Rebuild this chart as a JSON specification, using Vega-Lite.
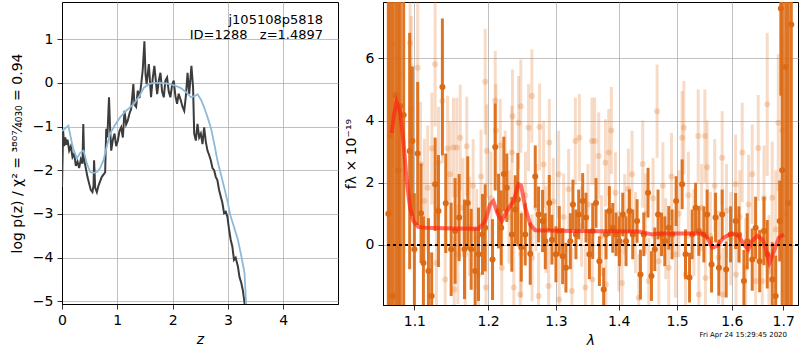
{
  "$schema": "https://vega.github.io/schema/vega-lite/v6.json",
  "padding": {"left": 9, "top": 1, "right": 0, "bottom": 0},
  "spacing": 45,
  "bounds": "flush",
  "config": {
    "font": "DejaVu Sans",
    "view": {"stroke": "black", "strokeWidth": 1},
    "axis": {
      "grid": true, "gridColor": "#b0b0b0", "gridWidth": 0.8,
      "domainColor": "black", "domainWidth": 1,
      "tickColor": "black", "tickSize": 5, "tickWidth": 0.8,
      "labelFontSize": 14, "labelColor": "black", "labelPadding": 4,
      "titleFontSize": 14, "titleFontWeight": "normal", "titleColor": "black", "titlePadding": 5,
      "labelFlush": false, "labelOverlap": false
    }
  },
  "datasets": {
    "pz": [
      {"z":0.00,"logp":-2.38},{"z":0.02,"logp":-1.09},{"z":0.04,"logp":-1.45},{"z":0.06,"logp":-1.25},{"z":0.08,"logp":-1.42},{"z":0.10,"logp":-1.30},{"z":0.13,"logp":-1.55},{"z":0.16,"logp":-1.45},{"z":0.19,"logp":-1.70},{"z":0.22,"logp":-1.62},{"z":0.25,"logp":-1.90},{"z":0.28,"logp":-1.80},{"z":0.31,"logp":-1.95},{"z":0.34,"logp":-1.75},{"z":0.37,"logp":-1.85},{"z":0.385,"logp":-0.94},{"z":0.40,"logp":-1.75},{"z":0.43,"logp":-1.95},{"z":0.46,"logp":-2.15},{"z":0.49,"logp":-2.30},{"z":0.52,"logp":-2.45},{"z":0.55,"logp":-2.50},{"z":0.57,"logp":-2.35},{"z":0.58,"logp":-1.77},{"z":0.60,"logp":-2.40},{"z":0.63,"logp":-2.50},{"z":0.66,"logp":-2.35},{"z":0.69,"logp":-2.25},{"z":0.72,"logp":-2.15},{"z":0.75,"logp":-2.10},{"z":0.78,"logp":-2.05},{"z":0.80,"logp":-1.05},{"z":0.82,"logp":-1.25},{"z":0.85,"logp":-0.33},{"z":0.87,"logp":-1.05},{"z":0.89,"logp":-1.55},{"z":0.92,"logp":-1.30},{"z":0.95,"logp":-1.16},{"z":0.98,"logp":-1.45},{"z":1.01,"logp":-1.32},{"z":1.04,"logp":-1.10},{"z":1.07,"logp":-1.02},{"z":1.10,"logp":-1.25},{"z":1.13,"logp":-0.64},{"z":1.16,"logp":-0.95},{"z":1.19,"logp":-0.86},{"z":1.22,"logp":-0.70},{"z":1.25,"logp":-0.60},{"z":1.29,"logp":-0.03},{"z":1.31,"logp":-0.50},{"z":1.34,"logp":-0.55},{"z":1.37,"logp":-0.18},{"z":1.40,"logp":-0.35},{"z":1.43,"logp":-0.05},{"z":1.46,"logp":0.30},{"z":1.49,"logp":0.95},{"z":1.51,"logp":0.20},{"z":1.53,"logp":-0.03},{"z":1.57,"logp":0.43},{"z":1.61,"logp":-0.33},{"z":1.64,"logp":0.10},{"z":1.67,"logp":0.39},{"z":1.72,"logp":-0.26},{"z":1.75,"logp":0.05},{"z":1.78,"logp":0.23},{"z":1.81,"logp":-0.20},{"z":1.84,"logp":-0.33},{"z":1.87,"logp":0.05},{"z":1.90,"logp":0.12},{"z":1.93,"logp":-0.20},{"z":1.96,"logp":-0.33},{"z":1.99,"logp":-0.05},{"z":2.02,"logp":0.05},{"z":2.05,"logp":-0.30},{"z":2.08,"logp":-0.48},{"z":2.11,"logp":-0.25},{"z":2.15,"logp":-0.41},{"z":2.18,"logp":-0.55},{"z":2.21,"logp":-0.64},{"z":2.24,"logp":-0.30},{"z":2.27,"logp":0.23},{"z":2.30,"logp":-0.26},{"z":2.34,"logp":0.39},{"z":2.37,"logp":-0.11},{"z":2.39,"logp":-1.16},{"z":2.42,"logp":-1.32},{"z":2.45,"logp":-0.94},{"z":2.48,"logp":-1.25},{"z":2.51,"logp":-1.16},{"z":2.54,"logp":-1.40},{"z":2.57,"logp":-1.02},{"z":2.60,"logp":-1.35},{"z":2.63,"logp":-1.55},{"z":2.66,"logp":-1.65},{"z":2.69,"logp":-1.77},{"z":2.72,"logp":-1.95},{"z":2.75,"logp":-2.00},{"z":2.78,"logp":-2.15},{"z":2.81,"logp":-2.23},{"z":2.84,"logp":-2.45},{"z":2.87,"logp":-2.60},{"z":2.90,"logp":-2.75},{"z":2.93,"logp":-2.98},{"z":2.96,"logp":-2.95},{"z":2.99,"logp":-3.06},{"z":3.02,"logp":-3.35},{"z":3.05,"logp":-3.59},{"z":3.08,"logp":-3.75},{"z":3.11,"logp":-4.05},{"z":3.14,"logp":-4.00},{"z":3.18,"logp":-4.20},{"z":3.21,"logp":-4.45},{"z":3.24,"logp":-4.57},{"z":3.27,"logp":-4.75},{"z":3.30,"logp":-5.03},{"z":3.32,"logp":-5.30}
    ],
    "prior": [
      {"z":0.00,"logp":-1.10},{"z":0.05,"logp":-1.05},{"z":0.115,"logp":-0.98},{"z":0.15,"logp":-1.20},{"z":0.20,"logp":-1.50},{"z":0.27,"logp":-1.73},{"z":0.33,"logp":-1.60},{"z":0.39,"logp":-1.55},{"z":0.45,"logp":-1.85},{"z":0.51,"logp":-2.04},{"z":0.57,"logp":-2.06},{"z":0.63,"logp":-2.04},{"z":0.69,"logp":-1.95},{"z":0.75,"logp":-1.77},{"z":0.81,"logp":-1.45},{"z":0.87,"logp":-1.16},{"z":0.95,"logp":-0.98},{"z":1.05,"logp":-0.79},{"z":1.15,"logp":-0.65},{"z":1.30,"logp":-0.48},{"z":1.40,"logp":-0.30},{"z":1.48,"logp":-0.11},{"z":1.57,"logp":-0.03},{"z":1.66,"logp":0.0},{"z":1.78,"logp":0.0},{"z":1.90,"logp":-0.02},{"z":2.02,"logp":-0.05},{"z":2.15,"logp":-0.12},{"z":2.25,"logp":-0.22},{"z":2.33,"logp":-0.33},{"z":2.40,"logp":-0.30},{"z":2.45,"logp":-0.26},{"z":2.51,"logp":-0.38},{"z":2.57,"logp":-0.56},{"z":2.63,"logp":-0.78},{"z":2.69,"logp":-1.02},{"z":2.75,"logp":-1.38},{"z":2.81,"logp":-1.77},{"z":2.87,"logp":-2.08},{"z":2.93,"logp":-2.38},{"z":2.99,"logp":-2.70},{"z":3.05,"logp":-3.06},{"z":3.11,"logp":-3.30},{"z":3.18,"logp":-3.59},{"z":3.24,"logp":-3.95},{"z":3.30,"logp":-4.35},{"z":3.33,"logp":-5.10}
    ],
    "dark": [
      {"lam":1.0667,"f":1.0,"e":10},{"lam":1.0690,"f":3.5,"e":10},{"lam":1.0721,"f":-1.64,"e":10},{"lam":1.0759,"f":4.82,"e":10},{"lam":1.0794,"f":2.40,"e":10},{"lam":1.0819,"f":4.47,"e":10},{"lam":1.0862,"f":4.18,"e":10},
      {"lam":1.0939,"f":3.02,"e":3.8},{"lam":1.0974,"f":3.34,"e":2.4},{"lam":1.1000,"f":-0.14,"e":1.8},{"lam":1.1043,"f":2.94,"e":2.3},{"lam":1.1087,"f":1.02,"e":1.6},{"lam":1.1118,"f":-0.58,"e":1.5},{"lam":1.1184,"f":-0.84,"e":1.7},{"lam":1.1227,"f":-1.64,"e":1.4},{"lam":1.1273,"f":1.95,"e":1.5},{"lam":1.1317,"f":1.09,"e":1.8},{"lam":1.1370,"f":5.08,"e":2.2},{"lam":1.1415,"f":1.34,"e":1.6},{"lam":1.1488,"f":-0.14,"e":1.5},{"lam":1.1542,"f":0.45,"e":1.7},{"lam":1.1597,"f":0.88,"e":1.4},{"lam":1.1670,"f":-0.14,"e":1.6},{"lam":1.1715,"f":1.35,"e":1.5},{"lam":1.1763,"f":-0.14,"e":1.3},{"lam":1.1818,"f":-0.84,"e":1.4},{"lam":1.1865,"f":-0.30,"e":1.5},{"lam":1.1921,"f":0.34,"e":1.3},{"lam":1.1959,"f":0.55,"e":1.4},{"lam":1.2063,"f":-0.47,"e":1.3},{"lam":1.2101,"f":3.15,"e":1.4},{"lam":1.2149,"f":1.09,"e":1.2},{"lam":1.2187,"f":0.55,"e":1.2},{"lam":1.2225,"f":2.28,"e":1.2},{"lam":1.2268,"f":1.84,"e":1.1},{"lam":1.2341,"f":0.34,"e":1.2},{"lam":1.2391,"f":1.14,"e":1.1},{"lam":1.2429,"f":1.46,"e":1.5},{"lam":1.2479,"f":-0.08,"e":1.1},{"lam":1.2538,"f":0.34,"e":1.0},{"lam":1.2612,"f":-0.28,"e":1.0},{"lam":1.2687,"f":2.20,"e":1.0},{"lam":1.2737,"f":0.98,"e":0.9},{"lam":1.2797,"f":0.77,"e":1.0},{"lam":1.2838,"f":0.12,"e":0.9},{"lam":1.2899,"f":1.35,"e":0.9},{"lam":1.2939,"f":0.17,"e":0.8},{"lam":1.3000,"f":-0.30,"e":0.9},{"lam":1.3052,"f":0.45,"e":0.8},{"lam":1.3104,"f":-0.36,"e":0.9},{"lam":1.3155,"f":-0.73,"e":0.8},{"lam":1.3223,"f":0.12,"e":0.9},{"lam":1.3264,"f":1.30,"e":0.8},{"lam":1.3311,"f":0.34,"e":0.8},{"lam":1.3354,"f":0.98,"e":0.8},{"lam":1.3417,"f":1.41,"e":0.9},{"lam":1.3470,"f":0.88,"e":0.8},{"lam":1.3524,"f":-0.30,"e":0.8},{"lam":1.3577,"f":0.45,"e":0.9},{"lam":1.3630,"f":1.35,"e":0.8},{"lam":1.3685,"f":-0.52,"e":0.8},{"lam":1.3754,"f":-1.43,"e":0.7},{"lam":1.3792,"f":0.34,"e":0.8},{"lam":1.3847,"f":1.09,"e":0.8},{"lam":1.3902,"f":0.55,"e":0.8},{"lam":1.3956,"f":0.34,"e":0.7},{"lam":1.4012,"f":0.12,"e":0.8},{"lam":1.4067,"f":0.98,"e":0.7},{"lam":1.4122,"f":0.12,"e":0.8},{"lam":1.4179,"f":1.09,"e":0.7},{"lam":1.4234,"f":0.34,"e":0.8},{"lam":1.4307,"f":0.77,"e":0.7},{"lam":1.4364,"f":-0.95,"e":0.8},{"lam":1.4421,"f":0.34,"e":0.7},{"lam":1.4494,"f":1.68,"e":0.8},{"lam":1.4552,"f":-1.00,"e":0.8},{"lam":1.4609,"f":-0.14,"e":0.7},{"lam":1.4666,"f":0.98,"e":0.8},{"lam":1.4726,"f":0.34,"e":0.7},{"lam":1.4783,"f":0.12,"e":0.8},{"lam":1.4853,"f":0.55,"e":0.7},{"lam":1.4911,"f":0.34,"e":0.8},{"lam":1.4982,"f":1.41,"e":0.8},{"lam":1.5089,"f":1.95,"e":0.8},{"lam":1.5149,"f":-0.30,"e":0.8},{"lam":1.5221,"f":-1.05,"e":0.8},{"lam":1.5268,"f":0.34,"e":0.8},{"lam":1.5330,"f":1.20,"e":0.8},{"lam":1.5389,"f":0.45,"e":0.8},{"lam":1.5481,"f":0.34,"e":0.9},{"lam":1.5541,"f":0.98,"e":0.8},{"lam":1.5622,"f":-0.63,"e":0.9},{"lam":1.5696,"f":0.88,"e":0.8},{"lam":1.5758,"f":-0.73,"e":0.9},{"lam":1.5819,"f":0.98,"e":0.8},{"lam":1.5894,"f":-0.79,"e":0.9},{"lam":1.5977,"f":0.34,"e":0.9},{"lam":1.6072,"f":0.77,"e":0.9},{"lam":1.6135,"f":0.34,"e":0.9},{"lam":1.6230,"f":-1.16,"e":1.0},{"lam":1.6294,"f":0.12,"e":0.9},{"lam":1.6390,"f":-0.47,"e":1.0},{"lam":1.6456,"f":0.55,"e":1.0},{"lam":1.6534,"f":-0.52,"e":1.0},{"lam":1.6619,"f":0.45,"e":1.1},{"lam":1.6683,"f":-0.30,"e":1.1},{"lam":1.6782,"f":-1.11,"e":1.2},{"lam":1.6850,"f":-1.64,"e":1.3},{"lam":1.6930,"f":0.77,"e":1.3},
      {"lam":1.6953,"f":7.6,"e":2.8},{"lam":1.6980,"f":2.4,"e":10},{"lam":1.7050,"f":5.72,"e":10},{"lam":1.7103,"f":1.35,"e":10},{"lam":1.7164,"f":7.09,"e":10}
    ],
    "light": [
      {"lam":1.0720,"f":6.45,"e":4},{"lam":1.0794,"f":0.77,"e":4},{"lam":1.0800,"f":5.5,"e":4},{"lam":1.0944,"f":6.49,"e":3},{"lam":1.0960,"f":4.36,"e":3},{"lam":1.1043,"f":5.70,"e":2.5},{"lam":1.1080,"f":2.6,"e":2},{"lam":1.1131,"f":1.41,"e":2},{"lam":1.1174,"f":1.84,"e":2},{"lam":1.1230,"f":3.1,"e":1.8},{"lam":1.1273,"f":5.81,"e":2},{"lam":1.1290,"f":-0.58,"e":1.8},{"lam":1.1317,"f":2.64,"e":1.8},{"lam":1.1370,"f":4.63,"e":2},{"lam":1.1407,"f":-1.11,"e":1.7},{"lam":1.1440,"f":3.1,"e":1.7},{"lam":1.1474,"f":2.27,"e":1.7},{"lam":1.1519,"f":3.13,"e":1.6},{"lam":1.1530,"f":-1.43,"e":1.7},{"lam":1.1564,"f":3.13,"e":1.6},{"lam":1.1580,"f":-0.30,"e":1.6},{"lam":1.1611,"f":3.45,"e":1.7},{"lam":1.1650,"f":1.2,"e":1.6},{"lam":1.1680,"f":-0.30,"e":1.7},{"lam":1.1702,"f":3.17,"e":1.6},{"lam":1.1740,"f":0.6,"e":1.6},{"lam":1.1790,"f":1.9,"e":1.5},{"lam":1.1840,"f":0.2,"e":1.6},{"lam":1.1865,"f":-0.95,"e":1.5},{"lam":1.1900,"f":2.2,"e":1.5},{"lam":1.1959,"f":5.25,"e":1.7},{"lam":1.1970,"f":-1.37,"e":1.5},{"lam":1.1982,"f":3.02,"e":1.5},{"lam":1.2040,"f":1.5,"e":1.5},{"lam":1.2101,"f":4.64,"e":1.6},{"lam":1.2110,"f":3.68,"e":1.5},{"lam":1.2173,"f":3.20,"e":1.5},{"lam":1.2196,"f":-0.73,"e":1.5},{"lam":1.2245,"f":2.27,"e":1.4},{"lam":1.2300,"f":0.9,"e":1.5},{"lam":1.2341,"f":2.97,"e":1.5},{"lam":1.2351,"f":4.14,"e":1.5},{"lam":1.2370,"f":-1.37,"e":1.5},{"lam":1.2439,"f":3.93,"e":1.5},{"lam":1.2464,"f":-1.59,"e":1.5},{"lam":1.2472,"f":4.46,"e":1.5},{"lam":1.2479,"f":-0.30,"e":1.4},{"lam":1.2540,"f":1.6,"e":1.4},{"lam":1.2587,"f":3.77,"e":1.4},{"lam":1.2636,"f":4.79,"e":1.5},{"lam":1.2640,"f":-0.41,"e":1.4},{"lam":1.2700,"f":1.2,"e":1.4},{"lam":1.2737,"f":-1.64,"e":1.4},{"lam":1.2752,"f":3.79,"e":1.4},{"lam":1.2812,"f":2.59,"e":1.4},{"lam":1.2850,"f":0.5,"e":1.4},{"lam":1.2888,"f":-1.32,"e":1.4},{"lam":1.2899,"f":3.29,"e":1.4},{"lam":1.2960,"f":1.4,"e":1.4},{"lam":1.3042,"f":2.27,"e":1.4},{"lam":1.3050,"f":-1.75,"e":1.4},{"lam":1.3120,"f":0.9,"e":1.4},{"lam":1.3197,"f":1.79,"e":1.3},{"lam":1.3248,"f":-1.48,"e":1.4},{"lam":1.3302,"f":3.34,"e":1.4},{"lam":1.3365,"f":3.45,"e":1.4},{"lam":1.3400,"f":0.6,"e":1.3},{"lam":1.3460,"f":-1.37,"e":1.4},{"lam":1.3500,"f":1.3,"e":1.3},{"lam":1.3565,"f":3.34,"e":1.4},{"lam":1.3570,"f":-1.11,"e":1.3},{"lam":1.3609,"f":3.34,"e":1.4},{"lam":1.3673,"f":2.86,"e":1.4},{"lam":1.3720,"f":0.3,"e":1.3},{"lam":1.3782,"f":2.64,"e":1.4},{"lam":1.3790,"f":-1.27,"e":1.3},{"lam":1.3836,"f":2.97,"e":1.4},{"lam":1.3880,"f":3.68,"e":1.4},{"lam":1.3946,"f":1.68,"e":1.3},{"lam":1.4000,"f":-0.2,"e":1.3},{"lam":1.4055,"f":-1.22,"e":1.4},{"lam":1.4100,"f":0.98,"e":1.3},{"lam":1.4160,"f":1.8,"e":1.3},{"lam":1.4222,"f":2.27,"e":1.4},{"lam":1.4280,"f":0.4,"e":1.3},{"lam":1.4336,"f":-1.70,"e":1.4},{"lam":1.4403,"f":2.60,"e":1.4},{"lam":1.4450,"f":1.0,"e":1.3},{"lam":1.4506,"f":-1.16,"e":1.4},{"lam":1.4580,"f":1.5,"e":1.3},{"lam":1.4649,"f":4.30,"e":1.5},{"lam":1.4679,"f":-0.52,"e":1.4},{"lam":1.4750,"f":1.9,"e":1.4},{"lam":1.4800,"f":0.2,"e":1.3},{"lam":1.4853,"f":-0.73,"e":1.4},{"lam":1.4900,"f":2.2,"e":1.4},{"lam":1.4971,"f":-0.30,"e":1.4},{"lam":1.5030,"f":1.0,"e":1.4},{"lam":1.5089,"f":3.45,"e":1.5},{"lam":1.5119,"f":3.77,"e":1.5},{"lam":1.5149,"f":-0.95,"e":1.4},{"lam":1.5200,"f":1.6,"e":1.4},{"lam":1.5300,"f":0.4,"e":1.4},{"lam":1.5377,"f":3.50,"e":1.5},{"lam":1.5389,"f":-1.59,"e":1.5},{"lam":1.5440,"f":1.2,"e":1.4},{"lam":1.5499,"f":3.50,"e":1.5},{"lam":1.5510,"f":-1.06,"e":1.5},{"lam":1.5541,"f":2.50,"e":1.5},{"lam":1.5600,"f":0.3,"e":1.4},{"lam":1.5680,"f":1.9,"e":1.5},{"lam":1.5750,"f":-0.4,"e":1.5},{"lam":1.5819,"f":2.80,"e":1.5},{"lam":1.5830,"f":-1.59,"e":1.5},{"lam":1.5900,"f":1.1,"e":1.5},{"lam":1.5980,"f":0.2,"e":1.5},{"lam":1.6072,"f":1.95,"e":1.6},{"lam":1.6080,"f":-0.95,"e":1.5},{"lam":1.6150,"f":0.9,"e":1.5},{"lam":1.6198,"f":2.97,"e":1.6},{"lam":1.6263,"f":-0.73,"e":1.6},{"lam":1.6320,"f":1.3,"e":1.6},{"lam":1.6390,"f":2.27,"e":1.6},{"lam":1.6456,"f":-1.16,"e":1.6},{"lam":1.6507,"f":3.12,"e":1.7},{"lam":1.6585,"f":-1.16,"e":1.7},{"lam":1.6620,"f":1.5,"e":1.7},{"lam":1.6683,"f":4.52,"e":2.3},{"lam":1.6717,"f":-0.84,"e":1.8},{"lam":1.6782,"f":1.52,"e":1.8},{"lam":1.6850,"f":0.5,"e":1.9},{"lam":1.6902,"f":3.93,"e":2.2},{"lam":1.6982,"f":3.69,"e":3.0},{"lam":1.7060,"f":1.0,"e":4}
    ],
    "model": [
      {"lam":1.0709,"f":3.60},{"lam":1.0740,"f":4.20},{"lam":1.0772,"f":4.60},{"lam":1.0814,"f":4.31},{"lam":1.0858,"f":3.34},{"lam":1.0900,"f":2.06},{"lam":1.0944,"f":1.20},{"lam":1.0988,"f":0.77},{"lam":1.1052,"f":0.58},{"lam":1.1140,"f":0.55},{"lam":1.1500,"f":0.53},{"lam":1.1865,"f":0.52},{"lam":1.1960,"f":0.77},{"lam":1.2028,"f":1.31},{"lam":1.2074,"f":1.41},{"lam":1.2138,"f":0.99},{"lam":1.2196,"f":0.77},{"lam":1.2269,"f":1.09},{"lam":1.2365,"f":1.41},{"lam":1.2438,"f":1.95},{"lam":1.2478,"f":1.90},{"lam":1.2537,"f":1.20},{"lam":1.2612,"f":0.66},{"lam":1.2686,"f":0.47},{"lam":1.3246,"f":0.45},{"lam":1.4334,"f":0.43},{"lam":1.4562,"f":0.34},{"lam":1.4678,"f":0.37},{"lam":1.5452,"f":0.37},{"lam":1.5543,"f":0.24},{"lam":1.5635,"f":-0.09},{"lam":1.5728,"f":-0.03},{"lam":1.5849,"f":0.24},{"lam":1.6005,"f":0.37},{"lam":1.6132,"f":0.29},{"lam":1.6228,"f":0.02},{"lam":1.6311,"f":-0.14},{"lam":1.6389,"f":0.13},{"lam":1.6486,"f":0.29},{"lam":1.6584,"f":0.18},{"lam":1.6649,"f":-0.09},{"lam":1.6728,"f":-0.57},{"lam":1.6815,"f":-0.20},{"lam":1.6914,"f":0.24},{"lam":1.7015,"f":0.34}
    ]
  },
  "hconcat": [
    {
      "width": 276,
      "height": 302,
      "layer": [
        {
          "data": {"name": "pz"},
          "mark": {"type": "line", "clip": true, "strokeWidth": 2, "color": "#3c3c3c"},
          "encoding": {
            "x": {"field": "z", "type": "quantitative", "title": "z", "scale": {"domain": [0, 4.99], "nice": false, "zero": false}, "axis": {"values": [0, 1, 2, 3, 4], "titleFontStyle": "italic"}},
            "y": {"field": "logp", "type": "quantitative", "title": "log p(z) / χ² = ³⁸⁰⁷⁄₄₀₃₀ = 0.94", "scale": {"domain": [-5.06, 1.85], "nice": false, "zero": false}, "axis": {"values": [-5, -4, -3, -2, -1, 0, 1], "titlePadding": 8}}
          }
        },
        {
          "data": {"name": "prior"},
          "mark": {"type": "line", "clip": true, "strokeWidth": 1.8, "color": "#8dbad9"},
          "encoding": {
            "x": {"field": "z", "type": "quantitative", "title": "z"},
            "y": {"field": "logp", "type": "quantitative", "title": "log p(z) / χ² = ³⁸⁰⁷⁄₄₀₃₀ = 0.94"}
          }
        },
        {
          "data": {"values": [{"label": "j105108p5818"}]},
          "mark": {"type": "text", "align": "right", "baseline": "middle", "fontSize": 13, "color": "black"},
          "encoding": {
            "x": {"datum": 4.72, "type": "quantitative", "title": "z"},
            "y": {"datum": 1.43, "type": "quantitative", "title": "log p(z) / χ² = ³⁸⁰⁷⁄₄₀₃₀ = 0.94"},
            "text": {"field": "label"}
          }
        },
        {
          "data": {"values": [{"label": "ID=1288\u00a0\u00a0\u00a0z=1.4897"}]},
          "mark": {"type": "text", "align": "right", "baseline": "middle", "fontSize": 13, "color": "black"},
          "encoding": {
            "x": {"datum": 4.72, "type": "quantitative", "title": "z"},
            "y": {"datum": 1.09, "type": "quantitative", "title": "log p(z) / χ² = ³⁸⁰⁷⁄₄₀₃₀ = 0.94"},
            "text": {"field": "label"}
          }
        }
      ]
    },
    {
      "width": 415,
      "height": 303,
      "title": {"text": "Fri Apr 24 15:29:45 2020", "orient": "bottom", "anchor": "end", "fontSize": 7, "fontWeight": "normal", "color": "black", "frame": "group", "offset": -16, "dx": -11},
      "layer": [
        {
          "data": {"name": "light"},
          "mark": {"type": "errorbar", "color": "#e0701c", "opacity": 0.25, "thickness": 3, "clip": true},
          "encoding": {
            "x": {"field": "lam", "type": "quantitative", "title": "λ", "scale": {"type": "log", "domain": [1.06, 1.73], "nice": false}, "axis": {"values": [1.1, 1.2, 1.3, 1.4, 1.5, 1.6, 1.7], "format": ".1f", "titleFontStyle": "italic"}},
            "y": {"field": "f", "type": "quantitative", "title": "fλ × 10⁻¹⁹", "scale": {"domain": [-1.93, 7.81], "nice": false, "zero": false}, "axis": {"values": [0, 2, 4, 6], "titlePadding": 7}},
            "yError": {"field": "e"}
          }
        },
        {
          "data": {"name": "light"},
          "mark": {"type": "circle", "color": "#e0701c", "opacity": 0.25, "size": 36, "clip": true},
          "encoding": {
            "x": {"field": "lam", "type": "quantitative", "title": "λ"},
            "y": {"field": "f", "type": "quantitative", "title": "fλ × 10⁻¹⁹"}
          }
        },
        {
          "data": {"name": "dark"},
          "mark": {"type": "errorbar", "color": "#dc6a14", "opacity": 0.92, "thickness": 3, "clip": true},
          "encoding": {
            "x": {"field": "lam", "type": "quantitative", "title": "λ"},
            "y": {"field": "f", "type": "quantitative", "title": "fλ × 10⁻¹⁹"},
            "yError": {"field": "e"}
          }
        },
        {
          "data": {"name": "dark"},
          "mark": {"type": "circle", "color": "#dc6a14", "opacity": 1, "size": 36, "clip": true},
          "encoding": {
            "x": {"field": "lam", "type": "quantitative", "title": "λ"},
            "y": {"field": "f", "type": "quantitative", "title": "fλ × 10⁻¹⁹"}
          }
        },
        {
          "data": {"name": "model"},
          "mark": {"type": "line", "color": "#ff1f10", "opacity": 0.65, "strokeWidth": 4, "clip": true},
          "encoding": {
            "x": {"field": "lam", "type": "quantitative", "title": "λ"},
            "y": {"field": "f", "type": "quantitative", "title": "fλ × 10⁻¹⁹"}
          }
        },
        {
          "data": {"values": [{}]},
          "mark": {"type": "rule", "color": "black", "strokeWidth": 2, "strokeDash": [3, 3]},
          "encoding": {
            "y": {"datum": 0, "type": "quantitative", "title": "fλ × 10⁻¹⁹"}
          }
        }
      ]
    }
  ]
}
